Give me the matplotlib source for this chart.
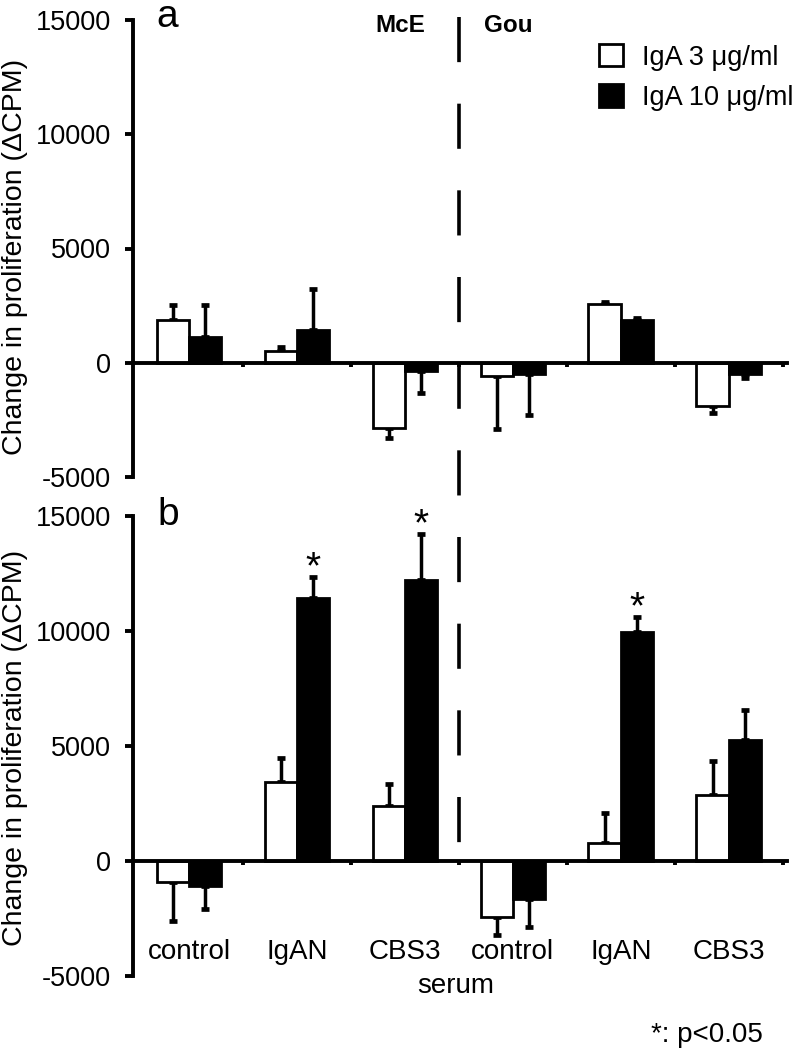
import matplotlib
matplotlib.use("Agg")
import matplotlib.pyplot as plt
import matplotlib.transforms as mtransforms
from matplotlib.lines import Line2D
import numpy as np

plt.rcParams['font.family'] = ['Liberation Sans', 'DejaVu Sans']

# ---------------- data ----------------
categories = ["control", "IgAN", "CBS3", "control", "IgAN", "CBS3"]
series_names = ["IgA 3 \u03bcg/ml", "IgA 10 \u03bcg/ml"]
serum_groups = ["McE", "Gou"]

# panel a
a_low = [1850, 500, -2870, -600, 2580, -1880]
a_low_err = [660, 200, 420, 2300, 90, 330]
a_high = [1130, 1420, -380, -500, 1880, -500]
a_high_err = [1380, 1800, 940, 1800, 80, 150]

# panel b
b_low = [-900, 3450, 2380, -2420, 800, 2850]
b_low_err = [1700, 1050, 980, 780, 1300, 1500]
b_high = [-1100, 11450, 12230, -1640, 9950, 5250]
b_high_err = [1000, 900, 2000, 1230, 650, 1320]
b_signif = [False, True, True, False, True, False]

yticks = [-5000, 0, 5000, 10000, 15000]
ylim = (-5000, 15000)

# ---------------- figure ----------------
W, H = 794, 1050
fig = plt.figure(figsize=(W / 100, H / 100), dpi=100)

def fx(px):
    return px / W

def fy(py):
    return 1 - py / H

ax_a = fig.add_axes([fx(133), fy(477), fx(787) - fx(133), (477 - 20) / H])
ax_b = fig.add_axes([fx(133), fy(976), fx(787) - fx(133), (976 - 516) / H])

x = np.arange(len(categories))
bw = 0.30
LW = 2.8


def one_sided(vals, errs):
    vals = np.asarray(vals, float)
    errs = np.asarray(errs, float)
    lo = np.where(vals < 0, errs, 0)
    hi = np.where(vals >= 0, errs, 0)
    return [lo, hi]


def draw_panel(ax, low, low_err, high, high_err):
    b1 = ax.bar(x - bw / 2, low, bw, color="white", edgecolor="black",
                linewidth=2.0, zorder=2, label=series_names[0])
    b2 = ax.bar(x + bw / 2, high, bw, color="black", edgecolor="black",
                linewidth=2.0, zorder=2, label=series_names[1])
    ax.errorbar(x - bw / 2, low, yerr=one_sided(low, low_err), fmt="none",
                ecolor="black", elinewidth=2.5, capsize=3, capthick=3.4, zorder=1)
    ax.errorbar(x + bw / 2, high, yerr=one_sided(high, high_err), fmt="none",
                ecolor="black", elinewidth=2.5, capsize=3, capthick=3.4, zorder=1)
    ax.set_xlim(-0.52, 5.54)
    ax.set_ylim(*ylim)
    ax.set_yticks(yticks)
    ax.set_yticklabels([str(t) for t in yticks])
    for s in ["top", "right"]:
        ax.spines[s].set_visible(False)
    ax.spines["left"].set_linewidth(LW)
    ax.spines["bottom"].set_linewidth(LW)
    ax.spines["bottom"].set_position(("data", 0))
    ax.tick_params(axis="y", direction="out", length=6, width=LW,
                   labelsize=19.5, pad=10)
    ax.set_xticks(np.arange(0.5, 6, 1.0))
    ax.set_xticklabels([])
    ax.tick_params(axis="x", direction="out", length=3, width=LW)
    ax.patch.set_alpha(0)
    return b1, b2


h1, h2 = draw_panel(ax_a, a_low, a_low_err, a_high, a_high_err)
draw_panel(ax_b, b_low, b_low_err, b_high, b_high_err)

# significance stars
for i, sig in enumerate(b_signif):
    if sig:
        ax_b.text(x[i] + bw / 2, b_high[i] + b_high_err[i] - 60, "*",
                  ha="center", va="baseline", fontsize=28)

# category labels under panel b
for i, c in enumerate(categories):
    ax_b.text(x[i], -3960, c, ha="center", va="center", fontsize=20)
fig.text(fx(456), fy(986), "serum", ha="center", va="center", fontsize=20)
fig.text(fx(763), fy(1035), "*: p<0.05", ha="right", va="center", fontsize=20)

# y labels
ylab = "Change in proliferation (\u0394CPM)"
fig.text(fx(15), fy(257), ylab, rotation=90, ha="center", va="center", fontsize=20.5)
fig.text(fx(15), fy(748), ylab, rotation=90, ha="center", va="center", fontsize=20.5)

# panel letters
fig.text(fx(156), fy(27), "a", ha="left", va="baseline", fontsize=28)
fig.text(fx(157), fy(525), "b", ha="left", va="baseline", fontsize=28)

# group headers
fig.text(fx(400), fy(26), serum_groups[0], ha="center", va="center",
         fontsize=17.5, fontweight="bold")
fig.text(fx(508), fy(26), serum_groups[1], ha="center", va="center",
         fontsize=17.5, fontweight="bold")

# dashed separator spanning both panels
trans = mtransforms.blended_transform_factory(ax_a.transData, fig.transFigure)
sep = Line2D([2.5, 2.5], [fy(17), fy(866)], transform=trans, color="black",
             linewidth=2.6, linestyle=(0, (12.5, 11.5)), clip_on=False)
fig.add_artist(sep)

# legend
ax_a.legend([h1, h2], series_names, loc="upper left",
            bbox_to_anchor=(fx(599), fy(44)), bbox_transform=fig.transFigure,
            frameon=False, fontsize=19.5, handlelength=0.9, handleheight=0.9,
            handletextpad=0.7, labelspacing=0.5, borderpad=0, borderaxespad=0)

fig.savefig("out.png", dpi=100)
